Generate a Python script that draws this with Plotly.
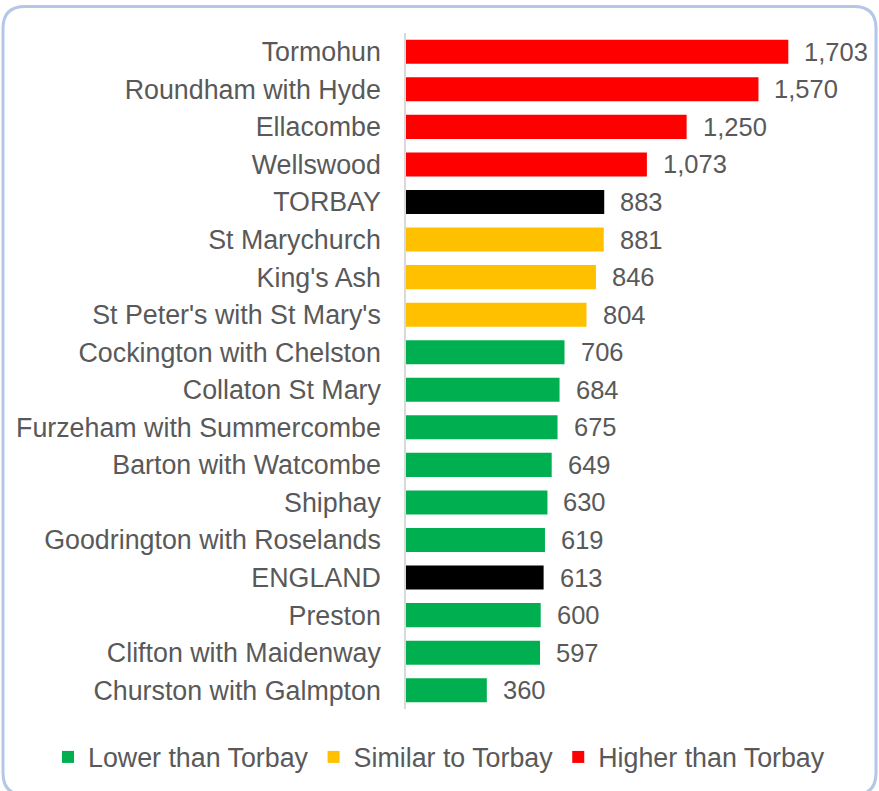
import plotly.graph_objects as go

areas = ["Tormohun", "Roundham with Hyde", "Ellacombe", "Wellswood", "TORBAY",
         "St Marychurch", "King's Ash", "St Peter's with St Mary's",
         "Cockington with Chelston", "Collaton St Mary", "Furzeham with Summercombe",
         "Barton with Watcombe", "Shiphay", "Goodrington with Roselands", "ENGLAND",
         "Preston", "Clifton with Maidenway", "Churston with Galmpton"]
values = [1703, 1570, 1250, 1073, 883, 881, 846, 804, 706, 684, 675, 649, 630, 619, 613, 600, 597, 360]
groups = ["Higher", "Higher", "Higher", "Higher", "Benchmark",
          "Similar", "Similar", "Similar",
          "Lower", "Lower", "Lower", "Lower", "Lower", "Lower", "Benchmark",
          "Lower", "Lower", "Lower"]

group_names = {"Lower": "Lower than Torbay", "Similar": "Similar to Torbay",
               "Higher": "Higher than Torbay", "Benchmark": "Benchmark"}
group_colors = {"Lower": "#00B050", "Similar": "#FFC000", "Higher": "#FF0000", "Benchmark": "#000000"}

W, H = 879, 791
ML, MR, MT, MB = 406, 24, 33, 82
PW, PH = W - ML - MR, H - MT - MB
FONT = "Liberation Sans, Arial, sans-serif"
GREY = "#595959"

fig = go.Figure()
for g in ["Lower", "Similar", "Higher", "Benchmark"]:
    xs = [v for v, gg in zip(values, groups) if gg == g]
    ys = [a for a, gg in zip(areas, groups) if gg == g]
    fig.add_trace(go.Bar(x=xs, y=ys, orientation="h", name=group_names[g],
                         marker=dict(color=group_colors[g], line=dict(width=0)),
                         showlegend=(g != "Benchmark"), hoverinfo="x+y"))

for a, v in zip(areas, values):
    fig.add_annotation(x=v, y=a, xref="x", yref="y", text=f"{v:,}", showarrow=False,
                       xanchor="left", xshift=14, font=dict(family=FONT, size=25.5, color=GREY))

def px(x, y):
    return ((x - ML) / PW, (H - MB - y) / PH)

L, R, T, B, r = 3, 876, 6.5, 795, 22
pts = [("M", L, T + r), ("Q", L, T, L + r, T), ("L", R - r, T), ("Q", R, T, R, T + r),
       ("L", R, B - r), ("Q", R, B, R - r, B), ("L", L + r, B), ("Q", L, B, L, B - r)]
path = ""
for p in pts:
    cmd = p[0]
    coords = p[1:]
    s = []
    for i in range(0, len(coords), 2):
        xx, yy = px(coords[i], coords[i + 1])
        s.append(f"{xx:.5f},{yy:.5f}")
    path += cmd + " ".join(s) + " "
path += "Z"
fig.add_shape(type="path", path=path, xref="paper", yref="paper",
              line=dict(color="#B4C7E7", width=3), fillcolor="rgba(0,0,0,0)", layer="below")

leg_x, leg_y = px(48, 757)

fig.update_layout(
    width=W, height=H,
    margin=dict(l=ML, r=MR, t=MT, b=MB, autoexpand=False),
    paper_bgcolor="white", plot_bgcolor="white",
    barmode="overlay", bargap=0.36,
    font=dict(family=FONT, size=26, color=GREY),
    showlegend=True,
    legend=dict(orientation="h", xref="paper", x=leg_x, xanchor="left",
                y=leg_y, yanchor="middle", font=dict(family=FONT, size=26.8, color=GREY),
                itemwidth=30, traceorder="normal", bgcolor="rgba(0,0,0,0)"),
    xaxis=dict(range=[0, 2000], visible=False, showgrid=False, zeroline=False),
    yaxis=dict(categoryorder="array", categoryarray=areas, autorange="reversed",
               showline=True, linecolor="#D9D9D9", linewidth=1.5, showgrid=False,
               ticks="", ticklabelstandoff=18,
               tickfont=dict(family=FONT, size=26.8, color=GREY)),
)

fig.write_html("out.html", config={"displayModeBar": False},
               post_script="document.body.style.margin='0';")
